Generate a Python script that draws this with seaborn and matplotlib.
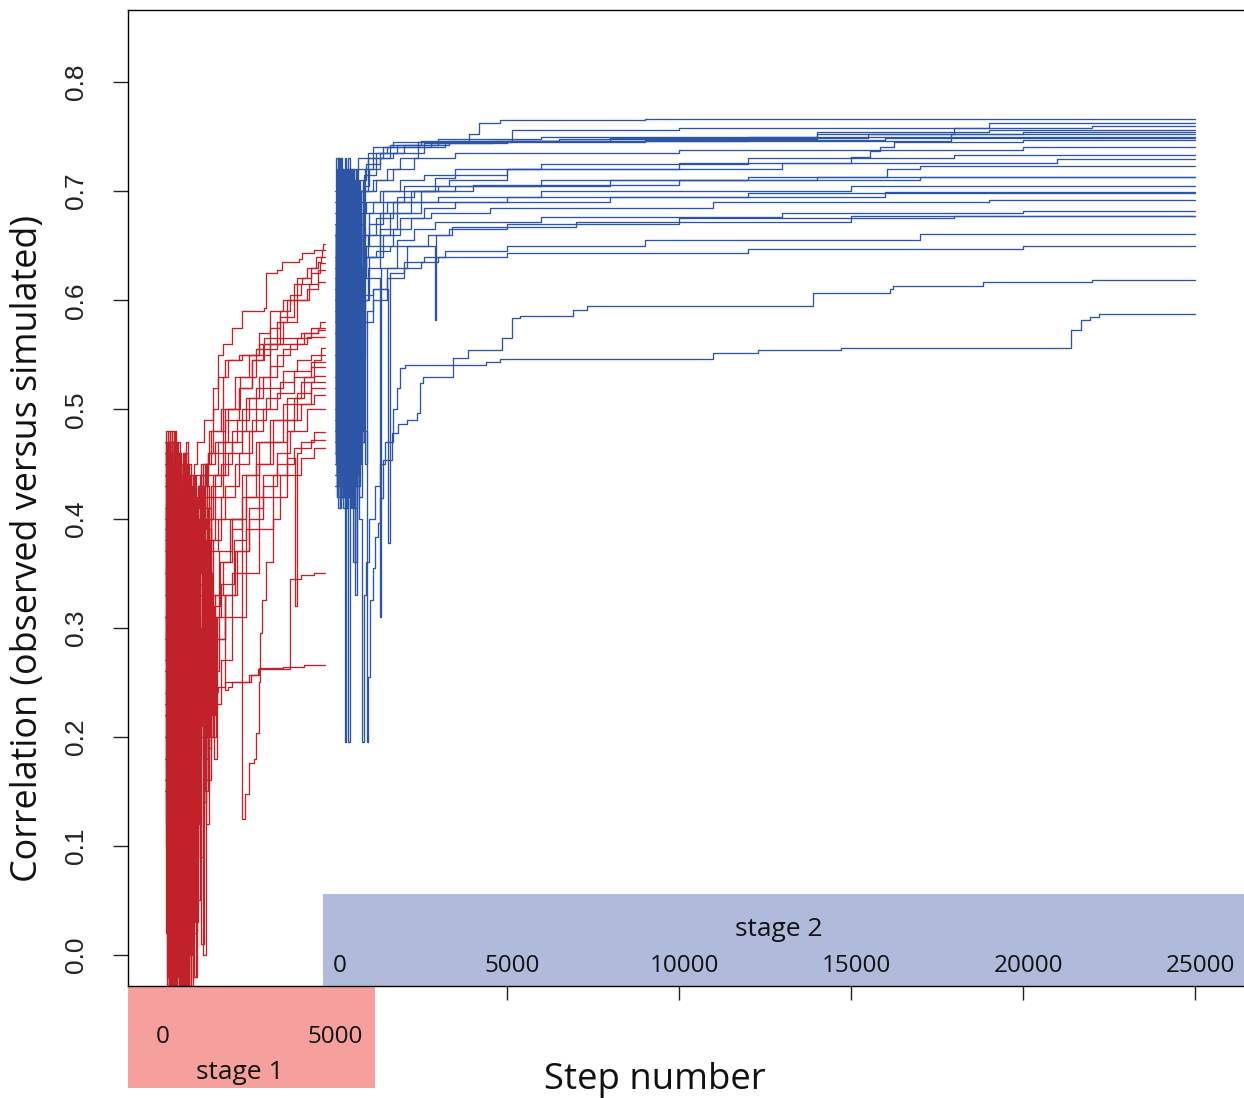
import matplotlib
matplotlib.use("Agg")
import matplotlib.pyplot as plt
from matplotlib.patches import Rectangle
import pandas as pd
import seaborn as sns

# ---------------------------------------------------------------------------
# Optimisation traces: (step, correlation) breakpoints of each run.
# Stage 1 runs last 4700 steps, stage 2 runs 25000 steps.
# ---------------------------------------------------------------------------
stage1_length = 4700
stage2_length = 25000
stage2_offset = 5000   # stage 2 step 0 sits at stage 1 step 5000

s1_run01 = [(52, .31), (97, .02), (149, .45), (188, -.05), (236, .40), (291, .08), (333, .47), (384, .12),
            (431, .44), (489, -.03), (537, .42), (598, .10), (652, .46), (714, .05), (781, .43), (846, .22),
            (915, .45), (1000, .47), (1200, .49), (1450, .52), (1600, .55), (1750, .56), (2000, .575),
            (2300, .59), (2950, .593), (3000, .625), (3300, .628), (3450, .635), (3950, .638), (4050, .643),
            (4380, .646), (4650, .652)]
s1_run02 = [(58, .45), (104, .16), (141, .47), (197, -.03), (249, .43), (302, .05), (348, .46), (401, .18),
            (455, .42), (507, -.05), (561, .41), (619, .14), (676, .47), (738, .02), (802, .44), (871, .10),
            (940, .41), (1010, .43), (1150, .45), (1350, .48), (1700, .50), (2100, .53), (2500, .55),
            (2800, .57), (3100, .59), (3500, .60), (3800, .615), (4050, .62), (4300, .63), (4450, .64),
            (4620, .646)]
s1_run03 = [(61, .20), (112, .44), (163, .01), (211, .48), (262, .14), (312, .42), (359, -.04), (412, .38),
            (468, .07), (519, .45), (574, -.02), (631, .40), (689, .15), (749, .45), (818, .04), (888, .33),
            (960, .44), (1300, .46), (1600, .47), (1900, .50), (2200, .52), (2600, .545), (2900, .56),
            (3300, .58), (3600, .60), (3900, .62), (4200, .63), (4500, .635), (4600, .640)]
s1_run04 = [(66, .38), (118, -.02), (171, .46), (224, .10), (276, .47), (325, -.05), (372, .40), (424, .06),
            (478, .46), (531, .25), (586, .43), (642, -.04), (701, .40), (764, .11), (832, .38), (905, .02),
            (985, .35), (1100, .45), (1400, .48), (1800, .50), (2250, .53), (2700, .55), (3100, .575),
            (3400, .59), (3700, .605), (4000, .615), (4300, .625), (4550, .634)]
s1_run05 = [(54, .27), (91, .48), (136, .03), (182, .42), (229, -.04), (283, .45), (340, .11), (393, .43),
            (446, .00), (498, .36), (552, .16), (607, .46), (664, -.05), (726, .41), (792, .20), (861, .44),
            (930, .03), (1010, .41), (1050, .43), (1300, .44), (1600, .46), (2000, .48), (2400, .51),
            (2800, .53), (3100, .56), (3500, .58), (3900, .60), (4250, .615), (4500, .628)]
s1_run06 = [(62, .16), (123, .47), (177, -.05), (230, .44), (283, .07), (337, .48), (391, .20), (442, .46),
            (496, -.02), (549, .39), (605, .13), (660, .45), (720, .01), (785, .42), (852, .18), (925, .40),
            (1020, .43), (1250, .45), (1500, .47), (1800, .49), (2200, .52), (2600, .545), (2950, .565),
            (3400, .585), (3800, .60), (4200, .61), (4500, .617)]
s1_run07 = [(57, .44), (108, .05), (160, .45), (214, .13), (268, .47), (318, -.03), (367, .37), (418, .09),
            (472, .43), (527, .21), (582, .45), (637, -.05), (696, .38), (758, .08), (825, .41), (898, .20),
            (975, .38), (1060, .20), (1150, .41), (1400, .43), (1700, .45), (2000, .47), (2300, .50),
            (2700, .52), (3100, .54), (3500, .555), (3900, .565), (4300, .575), (4550, .580)]
s1_run08 = [(63, .33), (100, .46), (152, .00), (205, .43), (254, .18), (306, .46), (357, -.05), (409, .41),
            (462, .15), (514, .44), (568, .02), (624, .45), (682, .12), (744, .43), (810, -.03), (880, .38),
            (960, .12), (1050, .38), (1150, .40), (1450, .44), (1800, .47), (2150, .49), (2500, .51),
            (2900, .53), (3300, .55), (3700, .56), (4100, .57), (4500, .575)]
s1_run09 = [(56, .41), (102, .12), (154, .44), (207, -.04), (258, .39), (310, .22), (362, .47), (415, .03),
            (466, .40), (522, .17), (578, .46), (634, .04), (694, .42), (757, .19), (820, .35), (893, -.02),
            (965, .39), (1250, .40), (1500, .42), (1750, .53), (1900, .545), (2300, .55), (2800, .56),
            (3400, .565), (4000, .57), (4500, .573)]
s1_run10 = [(60, .24), (115, .46), (167, .06), (219, .41), (272, -.05), (323, .44), (378, .16), (428, .47),
            (483, .09), (536, .42), (592, .26), (647, .45), (707, .03), (771, .40), (838, .14), (910, .42),
            (990, .26), (1060, .40), (1150, .44), (1300, .46), (1450, .50), (1600, .53), (1800, .545),
            (2200, .55), (2700, .555), (3300, .56), (4200, .566)]
s1_run11 = [(59, .46), (106, .08), (158, .42), (210, .19), (262, .48), (314, -.02), (366, .36), (419, .14),
            (473, .45), (526, .03), (580, .37), (636, .11), (694, .44), (755, -.04), (818, .39), (886, .24),
            (956, .37), (1030, .30), (1150, .42), (1500, .44), (1900, .46), (2300, .48), (2700, .50),
            (3100, .52), (3500, .535), (3900, .545), (4300, .550)]
s1_run12 = [(61, .29), (113, .47), (166, -.03), (216, .45), (268, .10), (321, .38), (374, .02), (427, .44),
            (481, .23), (534, .41), (589, -.05), (645, .43), (703, .15), (766, .40), (832, .06), (902, .41),
            (975, .15), (1050, .36), (1250, .38), (1500, .40), (1800, .43), (2200, .46), (2600, .49),
            (3000, .51), (3400, .525), (3800, .535), (4300, .543)]
s1_run13 = [(56, .37), (103, .04), (156, .48), (209, .11), (260, .43), (311, -.05), (364, .45), (417, .19),
            (470, .38), (523, .07), (577, .44), (633, .00), (690, .39), (752, .16), (814, .41), (882, .07),
            (950, .33), (1030, .24), (1120, .40), (1200, .30), (1300, .41), (1400, .38), (1700, .42),
            (2100, .45), (2500, .48), (2900, .50), (3300, .515), (3800, .53), (4300, .539)]
s1_run14 = [(59, .18), (110, .45), (162, .02), (213, .47), (265, .13), (317, .42), (369, -.04), (421, .39),
            (475, .12), (529, .44), (584, -.01), (640, .36), (699, .20), (761, .43), (828, .04), (897, .36),
            (968, .20), (1080, .34), (1170, .18), (1250, .38), (1330, .22), (1420, .33), (1520, .26),
            (1620, .37), (2000, .40), (2400, .44), (2800, .47), (3200, .49), (3600, .51), (4000, .525),
            (4400, .531)]
s1_run15 = [(62, .43), (114, .14), (165, .46), (218, -.01), (270, .41), (322, .17), (375, .44), (430, .08),
            (484, .35), (540, -.04), (594, .42), (651, .18), (710, .31), (773, .02), (840, .40), (910, .09),
            (1020, .31), (1090, .09), (1150, .30), (1230, .15), (1320, .40), (1400, .27), (1480, .32),
            (1650, .36), (1950, .40), (2300, .44), (2700, .47), (3100, .49), (3500, .505), (3900, .515),
            (4300, .525)]
s1_run16 = [(57, .35), (109, -.05), (161, .41), (213, .06), (266, .46), (319, .21), (371, .39), (425, -.02),
            (478, .43), (532, .10), (587, .33), (643, -.03), (702, .40), (765, .10), (830, .30), (900, .04),
            (1000, .15), (1080, .36), (1180, .28), (1260, .12), (1340, .31), (1450, .20), (1550, .31),
            (1700, .34), (2050, .38), (2400, .42), (2800, .45), (3200, .47), (3600, .49), (4000, .505),
            (4400, .513)]
s1_run17 = [(60, .22), (112, .44), (164, .09), (216, .40), (268, -.04), (320, .37), (373, .13), (426, .42),
            (479, .05), (533, .29), (588, .18), (644, .45), (703, -.01), (767, .27), (835, .12), (905, .36),
            (990, .18), (1080, .27), (1160, .42), (1230, .16), (1300, .22), (1380, .38), (1460, .24),
            (1550, .29), (1800, .33), (2100, .37), (2500, .41), (2900, .44), (3300, .46), (3700, .48),
            (4200, .50)]
s1_run18 = [(55, .47), (99, .10), (151, .38), (203, .01), (255, .45), (308, .15), (361, .36), (413, -.03),
            (467, .31), (520, .16), (575, .44), (630, .05), (688, .26), (750, .12), (815, .40), (885, -.02),
            (980, .12), (1060, .40), (1150, .24), (1230, .45), (1290, .20), (1380, .27), (1470, .18),
            (1560, .31), (2000, .35), (2400, .39), (2800, .42), (3200, .44), (3600, .455), (3850, .32),
            (3900, .46), (4000, .47), (4400, .479)]
s1_run19 = [(62, .31), (116, .02), (168, .43), (221, .14), (274, .47), (326, -.02), (379, .34), (432, .11),
            (486, .37), (540, .04), (595, .28), (652, .21), (712, .44), (777, .00), (845, .26), (917, .21),
            (1060, .21), (1140, .43), (1200, .14), (1250, .26), (1350, .35), (1430, .22), (1500, .29),
            (1800, .33), (2150, .37), (2500, .40), (2900, .43), (3300, .45), (3800, .465), (4300, .472)]
s1_run20 = [(58, .26), (105, .46), (157, -.02), (208, .36), (260, .08), (313, .41), (366, .02), (419, .32),
            (472, .19), (526, .45), (581, .05), (637, .27), (696, -.04), (759, .38), (826, .05), (896, .22),
            (1000, .05), (1080, .22), (1150, .00), (1250, .18), (1320, .41), (1390, .20), (1450, .23),
            (1700, .27), (2000, .31), (2400, .35), (2800, .39), (3200, .42), (3600, .44), (4000, .455),
            (4400, .465)]
s1_run21 = [(60, .40), (111, .07), (163, .45), (215, .17), (267, .35), (320, -.04), (372, .28), (425, .12),
            (479, .46), (533, .09), (588, .33), (645, -.02), (706, .25), (770, .14), (838, .41), (910, .11),
            (1000, .14), (1080, .44), (1150, .23), (1230, .38), (1300, .19), (1400, .241), (1600, .246),
            (1800, .25), (2500, .257), (2750, .262), (3700, .345), (4000, .348), (4400, .350)]
s1_run22 = [(57, .23), (107, .43), (160, .04), (212, .31), (264, -.03), (317, .37), (369, .11), (422, .29),
            (476, .02), (530, .44), (585, .10), (641, .35), (700, -.05), (763, .22), (830, .10), (900, .19),
            (1000, .19), (1080, .42), (1150, .28), (1230, .16), (1300, .39), (1400, .33), (1800, .243),
            (1900, .246), (2000, .25), (2550, .257), (2800, .263), (3500, .264), (4100, .266)]
s1_run23 = [(59, .39), (110, .10), (162, .47), (214, .20), (266, .45), (318, -.01), (371, .40), (424, .16),
            (478, .44), (532, .00), (586, .27), (643, .13), (703, .40), (767, .03), (835, .33), (905, .12),
            (990, .40), (1050, .33), (1300, .37), (1600, .40), (2300, .125), (2380, .148), (2500, .176),
            (2650, .18), (2700, .203), (2780, .25), (2830, .295), (2870, .325), (3000, .36), (3200, .40),
            (3400, .44), (3600, .48), (3800, .51), (4100, .53), (4400, .545), (4600, .556)]
s1_run24 = [(63, .15), (117, .42), (169, -.05), (222, .40), (274, .02), (327, .46), (380, .09), (434, .41),
            (487, .19), (541, .38), (597, -.04), (654, .40), (713, .07), (777, .30), (845, .13), (915, .38),
            (1000, .30), (1100, .01), (1200, .25), (1270, .43), (1330, .16), (1400, .29), (1500, .33),
            (1750, .36), (2000, .39), (2300, .42), (2700, .45), (3100, .47), (3500, .49), (3900, .505),
            (4300, .520)]

s2_run01 = [(0, .62), (38, .45), (81, .70), (127, .52), (166, .72), (214, .48), (259, .69), (305, .42),
            (352, .71), (398, .50), (446, .66), (497, .58), (551, .71), (604, .52), (662, .69), (731, .58),
            (800, .70), (1100, .71), (1500, .72), (1900, .73), (2400, .745), (3900, .752), (4200, .762),
            (4800, .765), (9000, .766)]
s2_run02 = [(5, .50), (46, .68), (92, .43), (135, .66), (181, .47), (227, .72), (270, .55), (318, .70),
            (364, .44), (411, .69), (462, .52), (515, .70), (572, .60), (628, .71), (690, .50), (752, .70),
            (830, .71), (900, .725), (1300, .735), (2000, .742), (3000, .745), (5150, .756), (10000, .758),
            (19000, .762)]
s2_run03 = [(2, .66), (52, .44), (98, .71), (143, .50), (190, .68), (236, .42), (281, .66), (327, .48),
            (375, .73), (423, .45), (474, .69), (528, .52), (585, .69), (640, .47), (702, .70), (765, .60),
            (830, .70), (950, .73), (1400, .74), (2600, .744), (4600, .746), (17900, .752), (18000, .758),
            (22000, .760)]
s2_run04 = [(8, .58), (43, .73), (88, .46), (131, .69), (175, .44), (221, .70), (266, .49), (312, .72),
            (357, .43), (405, .68), (455, .47), (507, .72), (562, .62), (640, .70), (850, .715), (1200, .735),
            (1800, .742), (3300, .746), (6500, .748), (14000, .752), (20000, .754)]
s2_run05 = [(3, .45), (41, .67), (86, .48), (129, .73), (172, .56), (219, .71), (263, .45), (309, .68),
            (355, .47), (402, .70), (451, .41), (503, .66), (557, .47), (613, .70), (668, .49), (735, .71),
            (800, .64), (870, .72), (1100, .73), (1600, .742), (2500, .746), (8000, .749), (15500, .752)]
s2_run06 = [(6, .68), (49, .47), (94, .72), (139, .41), (185, .66), (230, .50), (277, .73), (322, .55),
            (370, .69), (417, .42), (467, .70), (520, .53), (578, .70), (650, .72), (950, .735), (1500, .74),
            (2800, .744), (5000, .746), (12000, .750)]
s2_run07 = [(1, .52), (44, .70), (90, .44), (133, .68), (178, .46), (225, .71), (290, .195), (316, .69),
            (362, .44), (409, .72), (459, .49), (511, .69), (566, .70), (800, .705), (1000, .72), (1300, .73),
            (1700, .735), (2600, .74), (3200, .745), (9000, .747), (16000, .749)]
s2_run08 = [(4, .64), (47, .43), (93, .69), (137, .47), (182, .42), (228, .67), (274, .49), (320, .71),
            (367, .45), (414, .66), (464, .50), (517, .71), (573, .58), (620, .66), (800, .68), (1100, .69),
            (1400, .70), (2000, .705), (3300, .71), (5000, .72), (10000, .726), (15000, .731), (15550, .737),
            (15850, .740), (16250, .745), (20000, .747)]
s2_run09 = [(7, .60), (50, .42), (96, .67), (141, .45), (187, .72), (233, .53), (279, .66), (325, .44),
            (372, .70), (420, .46), (470, .68), (524, .44), (582, .62), (645, .43), (708, .66), (770, .52),
            (845, .64), (950, .66), (1300, .68), (1800, .695), (2300, .70), (2900, .712), (3500, .72),
            (6000, .725), (12000, .73), (18000, .733)]
s2_run10 = [(0, .47), (40, .66), (84, .44), (126, .71), (170, .48), (216, .70), (261, .43), (307, .64),
            (353, .46), (400, .71), (449, .53), (501, .68), (555, .45), (612, .63), (671, .46), (738, .67),
            (810, .55), (880, .65), (1000, .67), (1400, .69), (2000, .70), (3000, .705), (6000, .71),
            (12000, .713), (16050, .72), (17000, .723)]
s2_run11 = [(5, .55), (48, .72), (95, .50), (140, .69), (186, .43), (232, .64), (278, .47), (324, .70),
            (371, .52), (418, .67), (468, .42), (521, .66), (578, .61), (634, .44), (697, .68), (760, .52),
            (835, .66), (1000, .68), (1500, .69), (2200, .70), (3500, .705), (8000, .71), (14000, .713)]
s2_run12 = [(2, .63), (45, .45), (91, .70), (134, .49), (180, .65), (226, .42), (273, .69), (319, .51),
            (366, .72), (413, .48), (463, .64), (514, .44), (569, .64), (625, .47), (688, .66), (750, .50),
            (820, .655), (880, .66), (1200, .675), (1700, .69), (2500, .70), (4000, .706), (10000, .71),
            (17000, .713)]
s2_run13 = [(9, .43), (53, .65), (99, .46), (145, .71), (192, .44), (238, .65), (284, .44), (330, .62),
            (380, .195), (425, .70), (476, .43), (531, .63), (590, .62), (640, .63), (900, .64), (1300, .66),
            (1600, .68), (2200, .69), (3000, .695), (6000, .70), (15000, .705)]
s2_run14 = [(3, .67), (42, .48), (87, .72), (130, .44), (174, .63), (220, .52), (265, .68), (311, .41),
            (358, .67), (406, .47), (456, .70), (509, .41), (565, .60), (622, .43), (684, .66), (747, .54),
            (815, .62), (1000, .64), (1400, .66), (1900, .675), (2600, .685), (3500, .69), (8000, .695),
            (16000, .699)]
s2_run15 = [(6, .49), (50, .69), (97, .42), (142, .64), (188, .47), (234, .70), (280, .56), (326, .66),
            (374, .43), (422, .71), (472, .48), (526, .66), (584, .59), (640, .44), (706, .63), (775, .47),
            (850, .62), (900, .65), (1300, .665), (1800, .68), (2500, .69), (5000, .695), (12000, .698)]
s2_run16 = [(1, .61), (45, .44), (91, .66), (136, .46), (183, .68), (229, .50), (275, .63), (321, .41),
            (368, .67), (416, .45), (466, .63), (519, .36), (575, .58), (750, .60), (1000, .62), (1300, .31),
            (1330, .63), (1800, .655), (2300, .665), (2900, .672), (6000, .676), (13000, .68), (20000, .682)]
s2_run17 = [(4, .44), (48, .62), (94, .47), (139, .68), (185, .42), (231, .61), (277, .45), (323, .70),
            (369, .46), (417, .64), (467, .45), (520, .60), (580, .33), (650, .57), (712, .42), (781, .60),
            (860, .45), (940, .59), (1100, .61), (1500, .63), (2100, .65), (2700, .66), (3300, .665),
            (5000, .67), (10000, .675), (18000, .677)]
s2_run18 = [(7, .57), (51, .70), (97, .43), (143, .62), (190, .45), (236, .66), (282, .48), (329, .69),
            (376, .42), (424, .66), (475, .48), (529, .61), (591, .44), (652, .63), (718, .49), (790, .63),
            (900, .64), (1200, .645), (1600, .65), (2900, .582), (2950, .66), (3400, .667), (7000, .672),
            (15000, .677)]
s2_run19 = [(0, .46), (43, .64), (89, .41), (132, .60), (177, .48), (223, .65), (268, .42), (314, .69),
            (360, .44), (408, .64), (458, .42), (510, .58), (566, .41), (627, .60), (693, .45), (760, .60),
            (800, .605), (1100, .61), (1550, .378), (1600, .625), (2000, .635), (2600, .64), (3200, .645),
            (5000, .65), (9000, .655), (17000, .661)]
s2_run20 = [(8, .59), (52, .42), (98, .63), (144, .45), (191, .60), (237, .41), (283, .68), (330, .44),
            (378, .57), (426, .46), (478, .62), (532, .46), (590, .56), (648, .43), (713, .58), (780, .47),
            (850, .58), (1100, .60), (1500, .62), (2000, .63), (2500, .635), (3000, .64), (5000, .643),
            (12000, .647), (20000, .650)]
s2_run21 = [(2, .52), (46, .68), (92, .45), (138, .64), (184, .42), (230, .70), (276, .42), (322, .56),
            (368, .44), (415, .68), (465, .48), (520, .62), (600, .45), (700, .60), (820, .48), (930, .195),
            (960, .255), (1017, .325), (1105, .355), (1163, .383), (1250, .396), (1308, .419), (1395, .454),
            (1657, .478), (1831, .487), (2093, .49), (2384, .497), (2471, .524), (2560, .53), (3430, .547),
            (3866, .554), (4855, .565), (5145, .584), (5378, .586), (6919, .591), (7326, .595),
            (13895, .607), (16134, .610), (16221, .613), (18837, .617), (22000, .619)]
s2_run22 = [(5, .69), (49, .46), (95, .67), (141, .43), (187, .70), (233, .48), (279, .62), (326, .41),
            (373, .66), (421, .44), (471, .58), (525, .45), (580, .36), (640, .55), (700, .40), (784, .195),
            (830, .33), (900, .36), (1000, .40), (1150, .43), (1300, .45), (1450, .47), (1700, .50),
            (1800, .52), (1890, .538), (2035, .541), (4400, .543), (4800, .546), (11000, .552),
            (12300, .554), (14700, .556), (21400, .573), (21700, .582), (21950, .585), (22200, .587)]
s2_run23 = [(3, .70), (47, .50), (93, .73), (138, .44), (184, .66), (230, .47), (276, .70), (323, .45),
            (370, .69), (418, .57), (469, .72), (522, .52), (620, .69), (850, .70), (1200, .71), (1700, .72),
            (2300, .73), (3500, .735), (10000, .738), (20000, .740)]
s2_run24 = [(6, .53), (50, .71), (96, .45), (142, .67), (189, .42), (235, .63), (281, .46), (328, .69),
            (375, .45), (423, .64), (474, .55), (528, .66), (560, .55), (617, .66), (679, .44), (741, .62),
            (810, .60), (950, .63), (1300, .65), (1700, .665), (2200, .675), (2800, .68), (4500, .685),
            (11000, .69), (19000, .692)]
s2_run25 = [(1, .48), (44, .72), (90, .52), (135, .70), (181, .45), (227, .69), (273, .43), (319, .67),
            (365, .49), (412, .71), (462, .43), (515, .67), (570, .48), (634, .70), (700, .56), (770, .68),
            (900, .69), (1300, .70), (1900, .71), (2600, .715), (5000, .72), (13000, .726), (21000, .729)]
s2_run26 = [(4, .66), (39, .46), (85, .71), (128, .55), (173, .73), (218, .45), (264, .68), (310, .60),
            (356, .72), (403, .47), (453, .69), (505, .42), (560, .72), (616, .50), (681, .73), (750, .73),
            (1100, .74), (1700, .745), (3000, .748), (6000, .75), (14000, .754), (19000, .756)]

stage1_runs = [s1_run01, s1_run02, s1_run03, s1_run04, s1_run05, s1_run06, s1_run07, s1_run08,
               s1_run09, s1_run10, s1_run11, s1_run12, s1_run13, s1_run14, s1_run15, s1_run16,
               s1_run17, s1_run18, s1_run19, s1_run20, s1_run21, s1_run22, s1_run23, s1_run24]
stage2_runs = [s2_run01, s2_run02, s2_run03, s2_run04, s2_run05, s2_run06, s2_run07, s2_run08,
               s2_run09, s2_run10, s2_run11, s2_run12, s2_run13, s2_run14, s2_run15, s2_run16,
               s2_run17, s2_run18, s2_run19, s2_run20, s2_run21, s2_run22, s2_run23, s2_run24,
               s2_run25, s2_run26]

y_ticks = [0.0, 0.1, 0.2, 0.3, 0.4, 0.5, 0.6, 0.7, 0.8]
stage1_tick_labels = [0, 5000]
stage2_tick_labels = [0, 5000, 10000, 15000, 20000, 25000]

RED = "#c1222a"
BLUE = "#2d55a6"
RED_BAND = "#f5a09c"
BLUE_BAND = "#b0badb"

# ---------------------------------------------------------------------------
# Long table: one row per breakpoint, both stages on a shared step axis
# ---------------------------------------------------------------------------
rows = []
for i, run in enumerate(stage1_runs):
    for s, v in run + [(stage1_length, run[-1][1])]:
        rows.append(("stage 1", f"s1-{i}", s, v))
for i, run in enumerate(stage2_runs):
    for s, v in run + [(stage2_length, run[-1][1])]:
        rows.append(("stage 2", f"s2-{i}", stage2_offset + s, v))
df = pd.DataFrame(rows, columns=["stage", "run", "step", "corr"])

sns.set_theme(style="ticks")
plt.rcParams["font.family"] = ["DejaVu Sans"]
NUM_FONT = "Liberation Sans"
WORD_FONT = "Open Sans"

W, H = 1244, 1098
fig = plt.figure(figsize=(W / 100, H / 100), dpi=100)
ax = fig.add_axes([128 / W, 112 / H, (W - 128) / W, 976 / H])

sns.lineplot(data=df, x="step", y="corr", hue="stage", units="run", estimator=None,
             palette={"stage 1": RED, "stage 2": BLUE}, drawstyle="steps-post",
             linewidth=0.95, legend=False, sort=False, ax=ax)

x_lo, x_hi = -1017, 31424
y_lo, y_hi = -0.0284, 0.866
ax.set_xlim(x_lo, x_hi)
ax.set_ylim(y_lo, y_hi)
ax.set_xlabel("")
ax.set_ylabel("")

for side in ["top", "left", "bottom"]:
    ax.spines[side].set_visible(True)
    ax.spines[side].set_color("black")
    ax.spines[side].set_linewidth(1.0)
ax.spines["right"].set_visible(False)

# y axis
ax.set_yticks(y_ticks)
ax.set_yticklabels([f"{t:.1f}" for t in y_ticks], rotation=90, va="center",
                   fontsize=19, family=NUM_FONT, color="#222222")
ax.tick_params(axis="y", direction="out", length=11, width=1.0, pad=18, color="#222222")

# x axis: ticks on the shared step scale, labels written per stage
ax.set_xticks([0, 5000, 10000, 15000, 20000, 25000, 30000])
ax.set_xticklabels([])
ax.tick_params(axis="x", direction="out", length=10, width=1.0, color="#222222")

# stage bands
ax.add_patch(Rectangle((4651, y_lo), x_hi - 4651 + 2000, 0.0559 - y_lo,
                       facecolor=BLUE_BAND, edgecolor="none", zorder=1, clip_on=False))
ax.add_patch(Rectangle((x_lo, -0.1219), 6163 - x_lo, y_lo + 0.1219,
                       facecolor=RED_BAND, edgecolor="none", zorder=1, clip_on=False))

for v in stage2_tick_labels:
    ax.text(stage2_offset + v + 150, -0.0105, f"{v}", ha="center", va="center",
            fontsize=17.5, family=WORD_FONT, color="#111111", zorder=4, clip_on=False)
for v in stage1_tick_labels:
    ax.text(v, -0.075, f"{v}", ha="center", va="center",
            fontsize=17.5, family=WORD_FONT, color="#111111", zorder=4, clip_on=False)

ax.text(17907, 0.0235, "stage 2", ha="center", va="center", fontsize=19,
        family=WORD_FONT, color="#111111", zorder=4, clip_on=False)
ax.text(2238, -0.1075, "stage 1", ha="center", va="center", fontsize=19,
        family=WORD_FONT, color="#111111", zorder=4, clip_on=False)

fig.text(655 / W, 1 - 1080 / H, "Step number", ha="center", va="center",
         fontsize=26.3, family=WORD_FONT, color="#111111")
fig.text(28 / W, 1 - 548 / H, "Correlation (observed versus simulated)", ha="center",
         va="center", rotation=90, fontsize=25.8, family=WORD_FONT, color="#111111")

fig.savefig("out.png", dpi=100, facecolor="white")
